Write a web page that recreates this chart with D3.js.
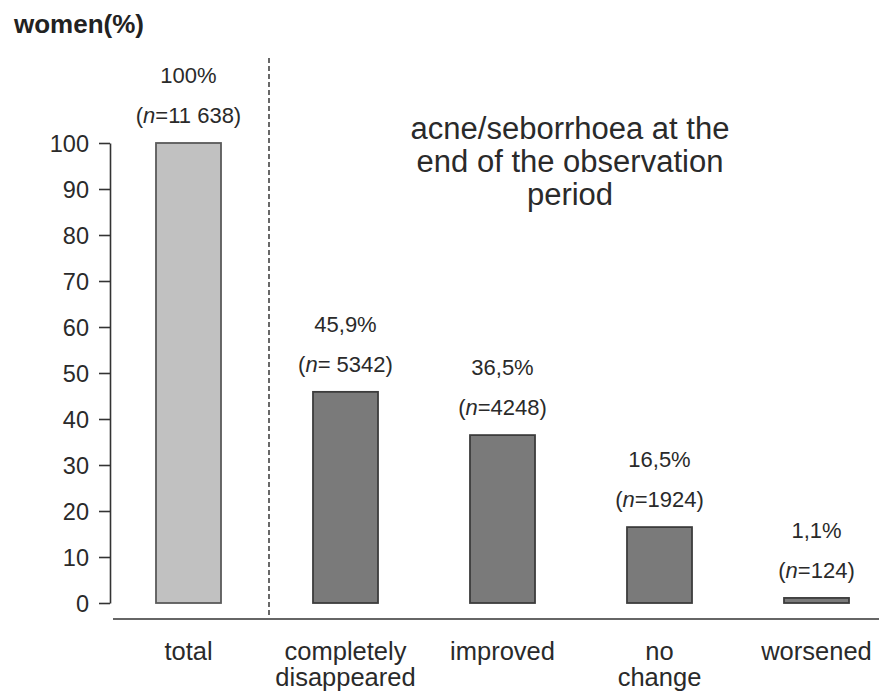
<!DOCTYPE html>
<html><head><meta charset="utf-8">
<script src="https://cdn.jsdelivr.net/npm/d3@7"></script>
<style>body{margin:0;background:#fff}svg{display:block;font-family:"Liberation Sans",Arial,sans-serif}</style>
</head><body><svg id="c" width="879" height="697"></svg>
<script>
const categories = ["total", "completely\ndisappeared", "improved", "no\nchange", "worsened"];
const values = [100, 45.9, 36.5, 16.5, 1.1];
const pctLabels = ["100%", "45,9%", "36,5%", "16,5%", "1,1%"];
const nLabels = ["11 638", " 5342", "4248", "1924", "124"];
const yTicks = [0, 10, 20, 30, 40, 50, 60, 70, 80, 90, 100];

const svg = d3.select("#c");
const y = d3.scaleLinear().domain([0, 100]).range([603, 143]);
const x = d3.scaleBand().domain(categories).range([156, 849]).paddingInner(0.586).paddingOuter(0);

// y axis
const ya = svg.append("g").attr("transform", "translate(110,0)")
  .call(d3.axisLeft(y).tickValues(yTicks).tickSize(11).tickSizeOuter(0).tickPadding(10));
ya.select(".domain").attr("stroke", "#333").attr("stroke-width", 1.6);
ya.selectAll(".tick line").attr("stroke", "#333").attr("stroke-width", 1.6);
ya.selectAll(".tick text").attr("font-size", 23.5).attr("fill", "#2a2a2a")
  .attr("font-family", "Liberation Sans, Arial, sans-serif").attr("dy", "0.36em");

// baseline
svg.append("line").attr("x1", 113).attr("x2", 879).attr("y1", 619).attr("y2", 619)
  .attr("stroke", "#333").attr("stroke-width", 1.6);

// dashed separator
svg.append("line").attr("x1", 269).attr("x2", 269).attr("y1", 58).attr("y2", 617)
  .attr("stroke", "#444").attr("stroke-width", 1.6).attr("stroke-dasharray", "5,3");

// bars
svg.selectAll("rect.bar").data(values).join("rect").attr("class", "bar")
  .attr("x", (d, i) => x(categories[i]))
  .attr("width", x.bandwidth())
  .attr("y", d => y(d))
  .attr("height", d => y(0) - y(d))
  .attr("fill", (d, i) => i === 0 ? "#c1c1c1" : "#7a7a7a")
  .attr("stroke", (d, i) => i === 0 ? "#5a5a5a" : "#3c3c3c")
  .attr("stroke-width", 1.8);

// value labels
values.forEach((v, i) => {
  const cx = x(categories[i]) + x.bandwidth() / 2;
  const top = y(v);
  svg.append("text").attr("x", cx).attr("y", top - 60).attr("text-anchor", "middle")
    .attr("font-size", 22).attr("fill", "#2a2a2a").text(pctLabels[i]);
  const t = svg.append("text").attr("x", cx).attr("y", top - 20).attr("text-anchor", "middle")
    .attr("font-size", 22).attr("fill", "#2a2a2a");
  t.append("tspan").text("(");
  t.append("tspan").attr("font-style", "italic").text("n");
  t.append("tspan").text("=" + nLabels[i] + ")");
});

// category labels
categories.forEach((c, i) => {
  const cx = x(c) + x.bandwidth() / 2;
  c.split("\n").forEach((line, j) => {
    svg.append("text").attr("x", cx).attr("y", 660 + j * 26).attr("text-anchor", "middle")
      .attr("font-size", 25.5).attr("fill", "#2a2a2a").text(line);
  });
});

// title
svg.append("text").attr("x", 14).attr("y", 33).attr("font-size", 26).attr("font-weight", "bold")
  .attr("fill", "#222").text("women(%)");

// annotation
["acne/seborrhoea at the", "end of the observation", "period"].forEach((l, j) => {
  svg.append("text").attr("x", 570).attr("y", 139 + j * 33).attr("text-anchor", "middle")
    .attr("font-size", 31).attr("fill", "#2a2a2a").text(l);
});
</script></body></html>
